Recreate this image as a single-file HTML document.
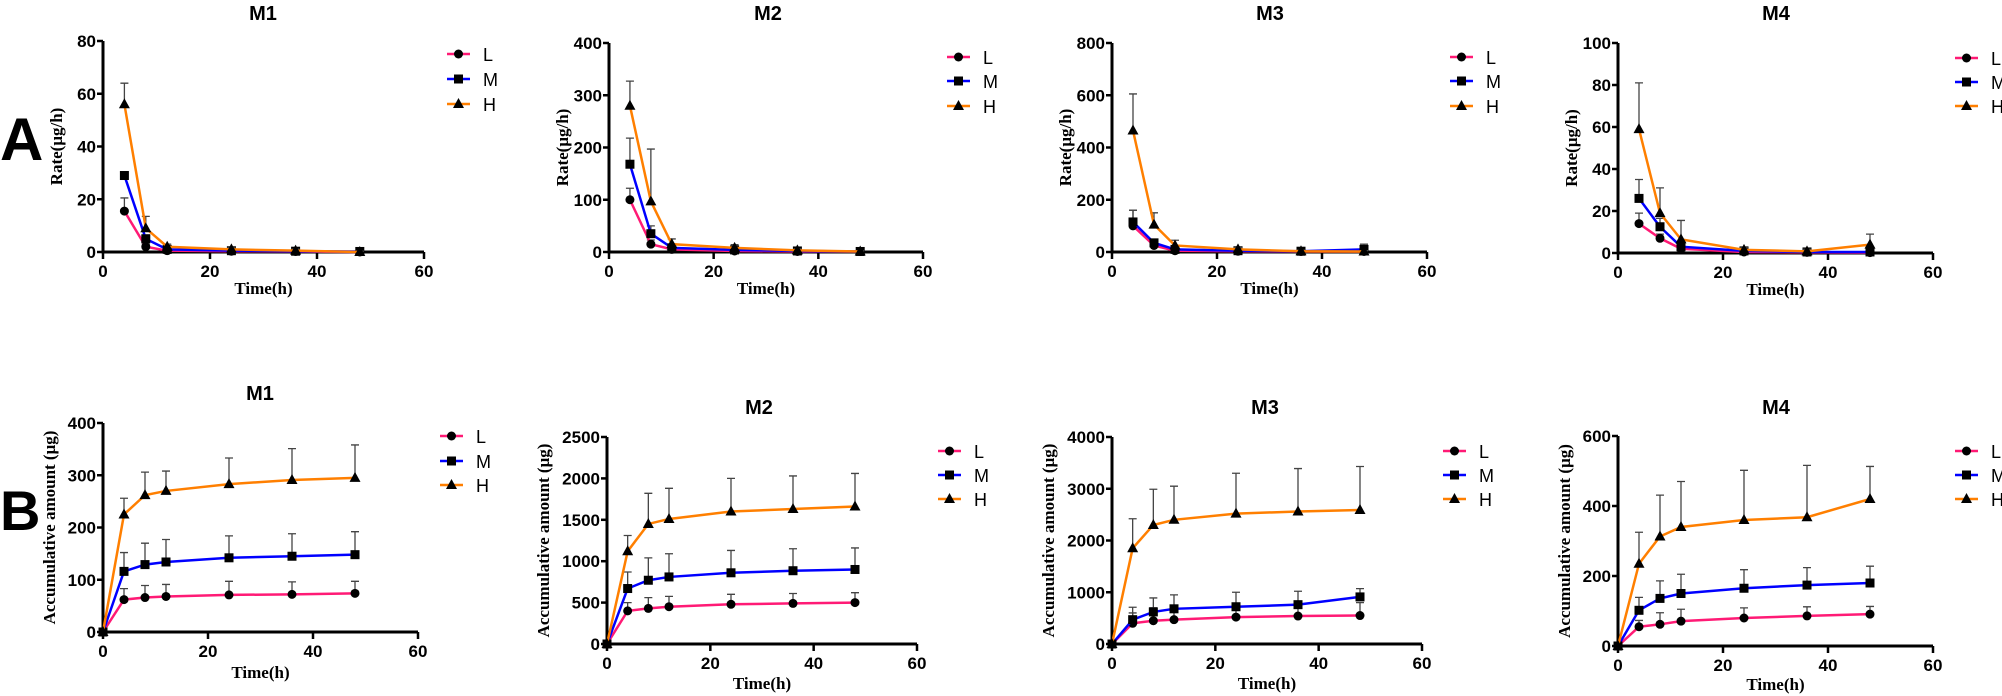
<!DOCTYPE html>
<html><head><meta charset="utf-8">
<style>
body{margin:0;background:#fff;}
svg{display:block;}
.tk{font:bold 17px "Liberation Sans",sans-serif;fill:#000;}
.ttl{font:bold 20px "Liberation Sans",sans-serif;}
.ax{font:bold 17px "Liberation Serif",serif;}
.lg{font:18px "Liberation Sans",sans-serif;}
</style></head>
<body>
<svg id="fig" width="2002" height="696" xmlns="http://www.w3.org/2000/svg">
<text x="0" y="160" style="font:bold 60px 'Liberation Sans',sans-serif">A</text>
<text x="0" y="530" style="font:bold 56px 'Liberation Sans',sans-serif">B</text>
</svg>
<script>
const timesA=[4,8,12,24,36,48];
const timesB=[0,4,8,12,24,36,48];
const xTicks=[0,20,40,60];
const seriesNames=["L","M","H"];
// A panels: release rate
const a1L=[15.5,2,0.5,0.3,0.2,0], a1M=[29,5,1,0.5,0.3,0.2], a1H=[56,9,2,1,0.5,0];
const a1Le=[5,1,0.5,0.3,0.2,0], a1Me=[0,1.5,0.5,0.3,0.3,0.2], a1He=[8,4.5,1,0.8,0.6,0.3];
const a2L=[100,15,5,2,1,1], a2M=[168,35,8,4,2,1], a2H=[280,97,15,8,3,1];
const a2Le=[22,8,3,2,1,1], a2Me=[50,15,4,3,2,1], a2He=[47,100,10,6,3,1];
const a3L=[100,25,5,3,2,2], a3M=[115,35,10,5,3,10], a3H=[465,105,25,10,3,2];
const a3Le=[60,8,4,3,2,2], a3Me=[45,12,6,4,3,20], a3He=[140,45,20,8,4,3];
const a4L=[14,7,2,0.5,0.3,0.2], a4M=[26,12.5,3,1,0.5,0.5], a4H=[59,19,6.5,1.5,0.8,4];
const a4Le=[5,2,1,0.5,0.3,0.2], a4Me=[9,4,2,1,1,0.5], a4He=[22,12,9,1,1,5];
// B panels: accumulative amount
const b1L=[0,62,66,68,71,72,74], b1M=[0,116,129,134,142,145,148], b1H=[0,225,262,270,283,291,295];
const b1Le=[0,21,23,23,26,24,23], b1Me=[0,36,41,43,42,43,44], b1He=[0,31,44,38,50,60,63];
const b2L=[0,400,430,450,480,490,500], b2M=[0,670,770,810,860,885,900], b2H=[0,1120,1450,1510,1600,1630,1660];
const b2Le=[0,100,130,125,120,120,120], b2Me=[0,200,270,280,270,265,260], b2He=[0,190,370,370,400,400,400];
const b3L=[0,400,450,470,520,540,550], b3M=[0,470,620,680,720,760,910], b3H=[0,1850,2300,2400,2520,2560,2590];
const b3Le=[0,200,250,250,250,250,250], b3Me=[0,240,270,270,280,260,160], b3He=[0,570,690,650,780,830,840];
const b4L=[0,55,62,71,80,86,91], b4M=[0,102,136,150,165,174,180], b4H=[0,235,313,340,360,368,420];
const b4Le=[0,18,33,34,29,26,22], b4Me=[0,37,50,55,53,50,48], b4He=[0,90,118,130,142,148,93];
const yTicksA1=[0,20,40,60,80], yTicksA2=[0,100,200,300,400], yTicksA3=[0,200,400,600,800], yTicksA4=[0,20,40,60,80,100];
const yTicksB1=[0,100,200,300,400], yTicksB2=[0,500,1000,1500,2000,2500], yTicksB3=[0,1000,2000,3000,4000], yTicksB4=[0,200,400,600];

const colors=["#ff1a75","#0000ff","#ff7f00"];
const NS="http://www.w3.org/2000/svg";
const svg=document.getElementById("fig");
function mk(tag,attrs,parent){const e=document.createElementNS(NS,tag);for(const k in attrs)e.setAttribute(k,attrs[k]);(parent||svg).appendChild(e);return e;}
function marker(g,i,x,y){
  let m;
  if(i===0){m=mk("circle",{cx:x,cy:y,r:4.5,fill:"#000"},g);}
  else if(i===1){m=mk("rect",{x:x-4.5,y:y-4.5,width:9,height:9,fill:"#000"},g);}
  else{m=mk("polygon",{points:`${x},${y-6} ${x-5.5},${y+4} ${x+5.5},${y+4}`,fill:"#000"},g);}
  
  
}
const panels=[
 {id:"a-m1",title:"M1",ox:103,oy:252,w:321,top:41,ymax:80,yt:yTicksA1,t:timesA,d:[a1L,a1M,a1H],e:[a1Le,a1Me,a1He],tx:263,ty:20,lx:447,ly:[54,79,104],yl:"Rate(μg/h)",xly:294,yo:41},
 {id:"a-m2",title:"M2",ox:609,oy:252,w:314,top:43,ymax:400,yt:yTicksA2,t:timesA,d:[a2L,a2M,a2H],e:[a2Le,a2Me,a2He],tx:768,ty:20,lx:947,ly:[57,81,106],yl:"Rate(μg/h)",xly:294,yo:41},
 {id:"a-m3",title:"M3",ox:1112,oy:252,w:315,top:43,ymax:800,yt:yTicksA3,t:timesA,d:[a3L,a3M,a3H],e:[a3Le,a3Me,a3He],tx:1270,ty:20,lx:1450,ly:[57,81,106],yl:"Rate(μg/h)",xly:294,yo:41},
 {id:"a-m4",title:"M4",ox:1618,oy:253,w:315,top:43,ymax:100,yt:yTicksA4,t:timesA,d:[a4L,a4M,a4H],e:[a4Le,a4Me,a4He],tx:1776,ty:20,lx:1955,ly:[58,82,106],yl:"Rate(μg/h)",xly:295,yo:41},
 {id:"b-m1",title:"M1",ox:103,oy:632,w:315,top:423,ymax:400,yt:yTicksB1,t:timesB,d:[b1L,b1M,b1H],e:[b1Le,b1Me,b1He],tx:260,ty:400,lx:440,ly:[436,461,485],yl:"Accumulative amount (μg)",xly:678,yo:48},
 {id:"b-m2",title:"M2",ox:607,oy:644,w:310,top:437,ymax:2500,yt:yTicksB2,t:timesB,d:[b2L,b2M,b2H],e:[b2Le,b2Me,b2He],tx:759,ty:414,lx:938,ly:[451,475,499],yl:"Accumulative amount (μg)",xly:689,yo:58},
 {id:"b-m3",title:"M3",ox:1112,oy:644,w:310,top:437,ymax:4000,yt:yTicksB3,t:timesB,d:[b3L,b3M,b3H],e:[b3Le,b3Me,b3He],tx:1265,ty:414,lx:1443,ly:[451,475,499],yl:"Accumulative amount (μg)",xly:689,yo:58},
 {id:"b-m4",title:"M4",ox:1618,oy:646,w:315,top:436,ymax:600,yt:yTicksB4,t:timesB,d:[b4L,b4M,b4H],e:[b4Le,b4Me,b4He],tx:1776,ty:414,lx:1955,ly:[451,475,499],yl:"Accumulative amount (μg)",xly:690,yo:48}
];
panels.forEach(p=>{
  const g=mk("g",{});
  
  
  const X=v=>p.ox+v/60*p.w, Y=v=>p.oy-v/p.ymax*(p.oy-p.top);
  const t=mk("text",{x:p.tx,y:p.ty,"text-anchor":"middle",class:"ttl"},g);t.textContent=p.title;
  
  
  const ax=mk("path",{d:`M${p.ox},${p.top} V${p.oy} H${p.ox+p.w}`,stroke:"#000","stroke-width":3,fill:"none"},g);
  
  
  p.yt.forEach(v=>{
    mk("line",{x1:p.ox-6,x2:p.ox,y1:Y(v),y2:Y(v),stroke:"#000","stroke-width":2.5},g);
    const tt=mk("text",{x:p.ox-7,y:Y(v)+6,"text-anchor":"end",class:"tk"},g);tt.textContent=v;
    
    
  });
  xTicks.forEach(v=>{
    mk("line",{x1:X(v),x2:X(v),y1:p.oy,y2:p.oy+7,stroke:"#000","stroke-width":2.5},g);
    const tt=mk("text",{x:X(v),y:p.oy+25,"text-anchor":"middle",class:"tk"},g);tt.textContent=v;
    
    
  });
  const xl=mk("text",{x:p.ox+p.w/2,y:p.xly,"text-anchor":"middle",class:"ax"},g);xl.textContent="Time(h)";
  
  
  const cy=(p.top+p.oy)/2, yx=p.ox-p.yo;
  const yl=mk("text",{x:yx,y:cy,"text-anchor":"middle",class:"ax",transform:`rotate(-90 ${yx} ${cy})`},g);yl.textContent=p.yl;
  
  
  p.d.forEach((s,i)=>{
    const sg=mk("g",{},g);
    
    
    s.forEach((v,k)=>{const er=p.e[i][k];if(er>0){
      const x=X(p.t[k]);
      mk("path",{d:`M${x},${Y(v)} V${Y(v+er)} M${x-4},${Y(v+er)} H${x+4}`,stroke:"#444","stroke-width":1.3,fill:"none"},sg);}});
    const pts=s.map((v,k)=>X(p.t[k])+","+Y(v)).join(" ");
    const ln=mk("polyline",{points:pts,stroke:colors[i],"stroke-width":2.5,fill:"none"},sg);
    
    
    s.forEach((v,k)=>marker(sg,i,X(p.t[k]),Y(v)));
  });
  seriesNames.forEach((n,i)=>{
    const lgg=mk("g",{},g);
    
    
    const y=p.ly[i];
    mk("line",{x1:p.lx,x2:p.lx+23,y1:y,y2:y,stroke:colors[i],"stroke-width":2.5},lgg);
    marker(lgg,i,p.lx+11.5,y);
    const tx=mk("text",{x:p.lx+36,y:y+7,class:"lg"},lgg);tx.textContent=n;
  });
});
</script>
</body></html>
